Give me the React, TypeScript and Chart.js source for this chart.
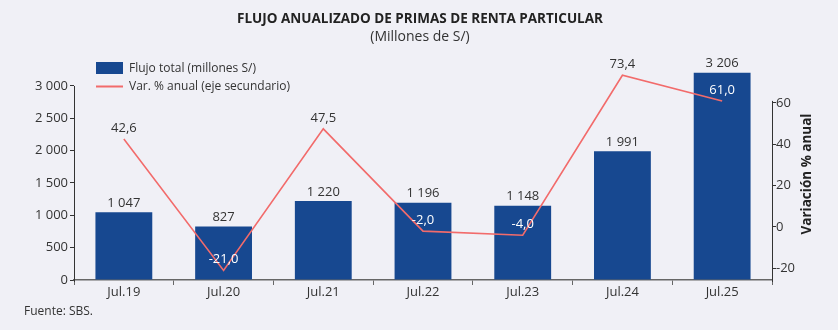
import React, { useEffect, useRef } from "react";
import { Chart, registerables } from "chart.js";

Chart.register(...registerables);

const categories = ["Jul.19", "Jul.20", "Jul.21", "Jul.22", "Jul.23", "Jul.24", "Jul.25"];
const flujoTotal = [1047, 827, 1220, 1196, 1148, 1991, 3206];
const variacionAnual = [42.6, -21.0, 47.5, -2.0, -4.0, 73.4, 61.0];
const leftTicks = [0, 500, 1000, 1500, 2000, 2500, 3000];
const rightTicks = [-20, 0, 20, 40, 60];

const TITLE = "FLUJO ANUALIZADO DE PRIMAS DE RENTA PARTICULAR";
const SUBTITLE = "(Millones de S/)";
const LEGEND_BAR = "Flujo total (millones S/)";
const LEGEND_LINE = "Var. % anual (eje secundario)";
const RIGHT_TITLE = "Variación % anual";
const SOURCE = "Fuente: SBS.";

const BG = "#f0f0f6";
const BAR = "#174890";
const LINE = "#f26b6b";
const TEXT = "#333333";
const FONT = "'Open Sans', 'Noto Sans', sans-serif";
const NARROW = "'Liberation Sans Narrow', 'Arial Narrow', 'Open Sans', sans-serif";

const fmtInt = (v: number) => String(Math.round(v)).replace(/\B(?=(\d{3})+(?!\d))/g, " ");
const fmtDec = (v: number) => v.toFixed(1).replace(".", ",");

const decorPlugin = {
  id: "decor",
  beforeDraw(chart: any) {
    const ctx = chart.ctx;
    ctx.save();
    ctx.fillStyle = BG;
    ctx.fillRect(0, 0, chart.width, chart.height);
    ctx.restore();
  },
  afterDraw(chart: any) {
    const ctx = chart.ctx;
    const area = chart.chartArea;
    const y = chart.scales.y;
    const y1 = chart.scales.y1;
    ctx.save();

    // axis lines
    ctx.strokeStyle = "#333";
    ctx.lineWidth = 1;
    ctx.beginPath();
    ctx.moveTo(area.left + 0.5, y.getPixelForValue(3000));
    ctx.lineTo(area.left + 0.5, area.bottom + 2);
    ctx.stroke();
    ctx.beginPath();
    ctx.moveTo(area.right + 0.5, y1.getPixelForValue(61));
    ctx.lineTo(area.right + 0.5, area.bottom + 2);
    ctx.stroke();

    // title
    ctx.fillStyle = "#222";
    ctx.textAlign = "center";
    ctx.textBaseline = "middle";
    ctx.font = `bold 13.5px ${NARROW}`;
    ctx.fillText(TITLE, 420, 19);
    ctx.font = `14px ${NARROW}`;
    ctx.fillStyle = TEXT;
    ctx.fillText(SUBTITLE, 420, 37);

    // legend
    ctx.fillStyle = BAR;
    ctx.fillRect(96, 62, 27, 12);
    ctx.strokeStyle = LINE;
    ctx.lineWidth = 2;
    ctx.beginPath();
    ctx.moveTo(96, 86.5);
    ctx.lineTo(123, 86.5);
    ctx.stroke();
    ctx.fillStyle = TEXT;
    ctx.textAlign = "left";
    ctx.font = `12px ${FONT}`;
    ctx.fillText(LEGEND_BAR, 129, 68.5);
    ctx.fillText(LEGEND_LINE, 129, 87);

    // bar labels
    const barMeta = chart.getDatasetMeta(0);
    const lineMeta = chart.getDatasetMeta(1);
    ctx.font = `13px ${FONT}`;
    ctx.textAlign = "center";
    barMeta.data.forEach((el: any, i: number) => {
      ctx.fillStyle = TEXT;
      ctx.fillText(fmtInt(flujoTotal[i]), el.x, el.y - 9);
    });
    // line labels
    lineMeta.data.forEach((pt: any, i: number) => {
      const bar = barMeta.data[i];
      const ly = pt.y - 11;
      const inside = ly > bar.y + 4 && Math.abs(pt.x - bar.x) < bar.width / 2;
      ctx.fillStyle = inside ? "#ffffff" : TEXT;
      ctx.fillText(fmtDec(variacionAnual[i]), pt.x, ly);
    });

    // right axis title
    ctx.save();
    ctx.translate(807, 174);
    ctx.rotate(-Math.PI / 2);
    ctx.font = `bold 13.5px ${FONT}`;
    ctx.fillStyle = "#222";
    ctx.textAlign = "center";
    ctx.fillText(RIGHT_TITLE, 0, 0);
    ctx.restore();

    // source
    ctx.font = `12px ${FONT}`;
    ctx.fillStyle = TEXT;
    ctx.textAlign = "left";
    ctx.fillText(SOURCE, 24, 312);

    ctx.restore();
  },
};

export default function App() {
  const ref = useRef<HTMLCanvasElement | null>(null);
  useEffect(() => {
    if (!ref.current) return;
    const tickFont = { family: FONT, size: 13 };
    const chart = new Chart(ref.current, {
      data: {
        labels: categories,
        datasets: [
          {
            type: "bar",
            label: LEGEND_BAR,
            data: flujoTotal,
            backgroundColor: BAR,
            yAxisID: "y",
            categoryPercentage: 1,
            barPercentage: 0.57,
            order: 2,
          },
          {
            type: "line",
            label: LEGEND_LINE,
            data: variacionAnual,
            borderColor: LINE,
            borderWidth: 1.6,
            pointRadius: 0,
            tension: 0,
            yAxisID: "y1",
            order: 1,
          },
        ],
      } as any,
      options: {
        responsive: false,
        animation: false,
        devicePixelRatio: 1,
        layout: { padding: { top: 60, left: 0, right: 0, bottom: 0 } },
        plugins: {
          legend: { display: false },
          title: { display: false },
          tooltip: { enabled: false },
        },
        scales: {
          x: {
            grid: { offset: true, drawOnChartArea: false, tickLength: 5, color: "#666" },
            border: { color: "#666", width: 1.5 },
            ticks: { font: tickFont, color: TEXT, padding: -1 },
            afterFit: (s: any) => {
              s.height = 50;
            },
          },
          y: {
            position: "left",
            min: 0,
            max: 3402,
            afterBuildTicks: (s: any) => {
              s.ticks = leftTicks.map((v) => ({ value: v }));
            },
            grid: { drawOnChartArea: false, tickLength: 4, color: "#333" },
            border: { display: false },
            ticks: { font: tickFont, color: TEXT, padding: 2, callback: (v: any) => fmtInt(Number(v)) },
            afterFit: (s: any) => {
              s.width = 74;
            },
          },
          y1: {
            position: "right",
            min: -25.65,
            max: 80.8,
            afterBuildTicks: (s: any) => {
              s.ticks = rightTicks.map((v) => ({ value: v }));
            },
            grid: { drawOnChartArea: false, tickLength: 4, color: "#333" },
            border: { display: false },
            ticks: { font: tickFont, color: TEXT, padding: 0, callback: (v: any) => String(v) },
            afterFit: (s: any) => {
              s.width = 66;
            },
          },
        },
      } as any,
      plugins: [decorPlugin],
    });
    return () => chart.destroy();
  }, []);
  return (
    <div style={{ position: "absolute", left: 0, top: 0, width: 838, height: 330 }}>
      <canvas ref={ref} width={838} height={330} style={{ display: "block", width: 838, height: 330 }} />
    </div>
  );
}
